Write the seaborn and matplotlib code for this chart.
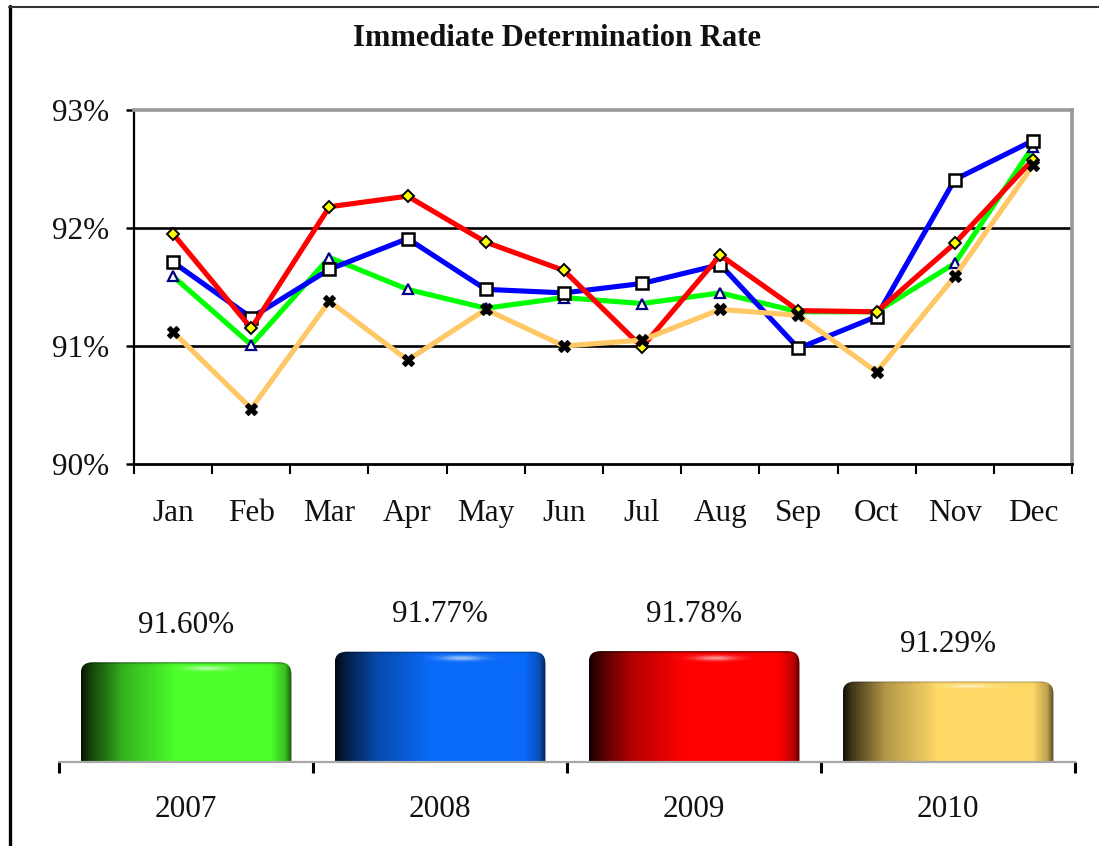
import numpy as np
import pandas as pd
import matplotlib
matplotlib.use("Agg")
import matplotlib.pyplot as plt
import seaborn as sns
from matplotlib.lines import Line2D
from matplotlib.patches import FancyBboxPatch
from matplotlib.ticker import FixedLocator, FuncFormatter
from matplotlib.colors import to_rgb

# ---------------- data ----------------
months = ["Jan", "Feb", "Mar", "Apr", "May", "Jun",
          "Jul", "Aug", "Sep", "Oct", "Nov", "Dec"]
rate_2007 = [91.59, 91.01, 91.75, 91.48, 91.32, 91.41, 91.36, 91.45, 91.29, 91.29, 91.70, 92.69]
rate_2008 = [91.71, 91.24, 91.65, 91.91, 91.48, 91.45, 91.53, 91.69, 90.98, 91.25, 92.41, 92.74]
rate_2009 = [91.95, 91.15, 92.18, 92.27, 91.88, 91.64, 90.99, 91.77, 91.30, 91.29, 91.87, 92.58]
rate_2010 = [91.12, 90.47, 91.38, 90.88, 91.31, 91.00, 91.05, 91.31, 91.26, 90.78, 91.59, 92.53]
years = ["2007", "2008", "2009", "2010"]
year_avg = [91.60, 91.77, 91.78, 91.29]
avg_labels = ["91.60%", "91.77%", "91.78%", "91.29%"]
y_ticks = [90, 91, 92, 93]

series = {"2007": rate_2007, "2008": rate_2008, "2009": rate_2009, "2010": rate_2010}

line_style = {
    "2007": dict(color="#00FF00", marker="^", markerfacecolor="white",
                 markeredgecolor="#000080", markersize=7, markeredgewidth=1.6),
    "2008": dict(color="#0000FF", marker="s", markerfacecolor="white",
                 markeredgecolor="black", markersize=8.5, markeredgewidth=1.8),
    "2009": dict(color="#FF0000", marker="D", markerfacecolor="#FFFF00",
                 markeredgecolor="black", markersize=6.5, markeredgewidth=1.4),
    "2010": dict(color="#FFC866", marker="X", markerfacecolor="black",
                 markeredgecolor="black", markersize=8, markeredgewidth=0.8),
}
bar_colors = ["#4CFF2A", "#0A6AF8", "#FF0000", "#FFD866"]

# ---------------- style ----------------
sns.set_style("white")
plt.rcParams["font.family"] = ["Liberation Serif", "DejaVu Serif"]

W, H = 1099, 846
fig = plt.figure(figsize=(W / 100, H / 100), dpi=100)
fig.patch.set_facecolor("white")


def box(l, t, r, b):
    return [l / W, 1 - b / H, (r - l) / W, (b - t) / H]


ax = fig.add_axes(box(134, 110, 1072, 464))
ax2 = fig.add_axes(box(59, 600, 1075, 762))

# ---------------- top line chart ----------------
df = pd.DataFrame({
    "month": months * len(years),
    "rate": sum([series[y] for y in years], []),
    "year": np.repeat(years, len(months)),
})
for y in years:
    sub = df[df["year"] == y]
    sns.lineplot(data=sub, x="month", y="rate", ax=ax, sort=False,
                 linewidth=3.7, legend=False, zorder=3, **line_style[y])

ax.set_xlim(-0.5, len(months) - 0.5)
ax.set_ylim(y_ticks[0], y_ticks[-1])
ax.yaxis.set_major_locator(FixedLocator(y_ticks))
ax.yaxis.set_major_formatter(FuncFormatter(lambda v, p: f"{v:.0f}%"))
ax.set_xlabel("")
ax.set_ylabel("")
ax.grid(axis="y", color="black", linewidth=1.9)
ax.grid(axis="x", visible=False)
gls = ax.get_ygridlines()
gls[0].set_visible(False)
gls[-1].set_visible(False)

ax.xaxis.set_minor_locator(FixedLocator(np.arange(len(months) + 1) - 0.5))
ax.tick_params(axis="x", which="major", length=0, pad=25, labelsize=22.5)
ax.tick_params(axis="x", which="minor", length=7, width=1.5, color="black",
               direction="out", bottom=True)
ax.tick_params(axis="y", which="major", length=6, width=1.8, color="black",
               direction="out", left=True, pad=12, labelsize=22.5)
for lab in ax.get_xticklabels() + ax.get_yticklabels():
    lab.set_color("#111111")

ax.spines["left"].set_color("black")
ax.spines["left"].set_linewidth(1.6)
ax.spines["bottom"].set_color("black")
ax.spines["bottom"].set_linewidth(2.0)
for s in ("top", "right"):
    ax.spines[s].set_color("#999999")
    ax.spines[s].set_linewidth(2.6)
    ax.spines[s].set_visible(True)

# ---------------- bottom bar chart ----------------
bar_df = pd.DataFrame({"year": years, "avg": year_avg})
sns.barplot(data=bar_df, x="year", y="avg", hue="year", palette=bar_colors,
            legend=False, width=0.83, ax=ax2, saturation=1)
ax2.set_xlim(-0.5, len(years) - 0.5)
ax2.set_ylim(90, 92.6)
ax2.set_xlabel("")
ax2.set_ylabel("")
ax2.set_yticks([])
for s in ("left", "right", "top"):
    ax2.spines[s].set_visible(False)
ax2.spines["bottom"].set_color("#A8A8A8")
ax2.spines["bottom"].set_linewidth(1.6)
ax2.xaxis.set_minor_locator(FixedLocator(np.arange(len(years) + 1) - 0.5))
ax2.tick_params(axis="x", which="major", length=0, pad=24, labelsize=22.5)
ax2.tick_params(axis="x", which="minor", length=8, width=2.2, color="black",
                direction="out", bottom=True)
for lab in ax2.get_xticklabels():
    lab.set_color("#111111")

# gradient shading of bars (clipped to each seaborn bar, rounded top)
y0 = ax2.get_ylim()[0]
xpp = (ax2.get_xlim()[1] - ax2.get_xlim()[0]) / (1075 - 59)
ypp = (ax2.get_ylim()[1] - ax2.get_ylim()[0]) / (762 - 600)
t = np.linspace(0, 1, 200)
bright = np.interp(t, [0, 0.04, 0.2, 0.45, 0.9, 0.97, 1.0],
                   [0.08, 0.25, 0.7, 1.0, 1.0, 0.75, 0.35])
for p, c in zip(ax2.patches, bar_colors):
    x0, w, top = p.get_x(), p.get_width(), p.get_height()
    base = np.array(to_rgb(c))
    rows = 120
    img = np.ones((rows, len(t), 3)) * base
    img = img * bright[None, :, None]
    v = np.linspace(0, 1, rows)[:, None]
    hl = np.exp(-((v - 0.06) / 0.022) ** 2) * np.exp(-((t[None, :] - 0.6) / 0.1) ** 2) * 0.6
    img = img * (1 - hl[..., None]) + hl[..., None]
    edge = np.exp(-(v / 0.012) ** 2) * 0.5
    img = img * (1 - edge[..., None])
    img = np.clip(img, 0, 1)
    r = 12 * xpp
    rb = FancyBboxPatch((x0, y0 - 0.3), w, top - (y0 - 0.3),
                        boxstyle=f"round,pad=0,rounding_size={r}",
                        mutation_aspect=ypp / xpp, transform=ax2.transData,
                        facecolor="none", edgecolor="none")
    ax2.add_patch(rb)
    p.set_clip_path(rb)
    im = ax2.imshow(img, extent=(x0, x0 + w, y0, top), origin="upper",
                    aspect="auto", zorder=2, interpolation="bilinear")
    im.set_clip_path(rb)
ax2.set_xlim(-0.5, len(years) - 0.5)
ax2.set_ylim(90, 92.6)
ax2.set_aspect("auto")

for cont in ax2.containers:
    n = len(cont)
    start = [i for i, p in enumerate(ax2.patches) if p is cont[0]]
    labs = avg_labels if n == len(years) else [avg_labels[ax2.containers.index(cont)]]
    ax2.bar_label(cont, labels=labs, padding=16, fontsize=22.5, color="#111111")

# ---------------- title and frame ----------------
fig.text(557 / W, 1 - 39 / H, "Immediate Determination Rate", ha="center",
         va="center", fontsize=22, fontweight="bold", color="#111111")
fig.add_artist(Line2D([10 / W, 10 / W], [0, 1 - 6 / H], color="black",
                      linewidth=2.4, transform=fig.transFigure))
fig.add_artist(Line2D([9 / W, 1], [1 - 7 / H, 1 - 7 / H], color="#333333",
                      linewidth=1.5, transform=fig.transFigure))

fig.savefig("out.png", dpi=100, facecolor="white")
